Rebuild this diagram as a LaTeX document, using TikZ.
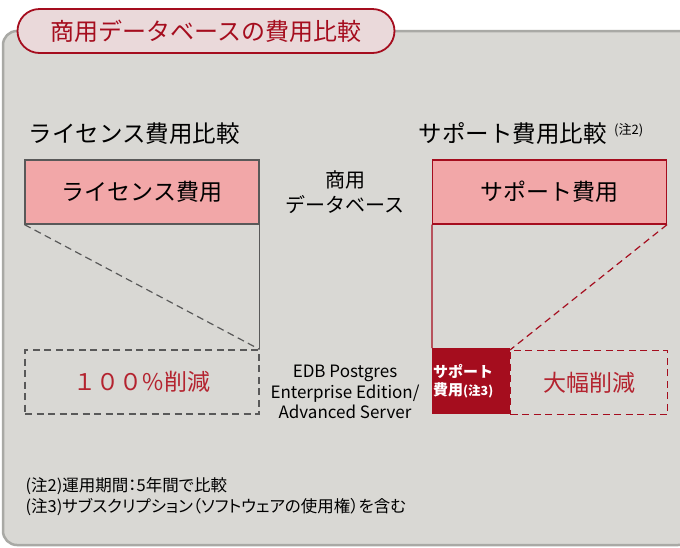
\documentclass[tikz,border=0pt]{standalone}
\usepackage{fontspec}
\setmainfont{Noto Sans CJK JP}
\usetikzlibrary{positioning}
\definecolor{panelgray}{HTML}{D9D8D4}
\definecolor{panelline}{HTML}{A9A9A5}
\definecolor{darkred}{HTML}{A50D1E}
\definecolor{pillpink}{HTML}{EAD9DA}
\definecolor{costpink}{HTML}{F2A7A8}
\definecolor{cutred}{HTML}{B4232F}
\tikzset{
  costbox/.style={draw, fill=costpink, line width=1.2pt, minimum width=234pt, minimum height=64pt, font=\fontsize{23}{26}\selectfont},
  cutbox/.style={draw, dashed, dash pattern=on 7pt off 4.5pt, line width=1.2pt, minimum height=64pt, font=\fontsize{23}{26}\selectfont, text=cutred},
  heading/.style={font=\fontsize{23.5}{26}\selectfont, anchor=west},
  midtext/.style={align=center, font=\fontsize{20}{25}\selectfont},
}
\begin{document}
\begin{tikzpicture}[x=1pt, y=-1pt]
    \useasboundingbox (0,0) rectangle (680,547);
    \fill[white] (0,0) rectangle (680,547);

    % grey panel
    \draw[panelline, fill=panelgray, line width=2.5pt, rounded corners=14pt] (3,31) rectangle (692,545);

    % title
    \node[draw=darkred, fill=pillpink, line width=1.8pt, rounded corners=22pt, minimum width=377pt, minimum height=44pt, text=darkred, font=\fontsize{24}{26}\selectfont] (title) at (206,31) {商用データベースの費用比較};

    % headings
    \node[heading] (lichead) at (25,134) {ライセンス費用比較};
    \node[heading] (suphead) at (415,134) {サポート費用比較};
    \node[anchor=west, font=\fontsize{13}{15}\selectfont, inner sep=0pt] (note2mark) at (614,130) {(注2)};

    % license side
    \node[costbox, draw=black!65] (licbox) at (142,192) {ライセンス費用};
    \node[cutbox, draw=black!65, minimum width=234pt] (liccut) at (142,382) {１００\%削減};
    \draw[black!65, line width=1.2pt] (licbox.south east) -- (liccut.north east);
    \draw[black!65, line width=1.2pt, dashed, dash pattern=on 7pt off 4.5pt] (licbox.south west) -- (liccut.north east);

    % middle labels
    \node[midtext] (commercial) at (345,192) {商用\\データベース};
    \node[midtext, font=\fontsize{17}{20.5}\selectfont] (edb) at (345,392) {EDB Postgres\\Enterprise Edition/\\Advanced Server};

    % support side
    \node[costbox, draw=darkred] (supbox) at (549.5,192) {サポート費用};
    \node[fill=darkred, minimum width=78pt, minimum height=66pt, anchor=north west, inner sep=0pt] (subbox) at (432,348) {};
    \node[anchor=west, text=white, align=left, font=\fontsize{15}{18}\selectfont\bfseries, inner sep=1pt] (sublabel) at (432,381) {サポート\\費用{\fontsize{12.5}{14}\selectfont (注3)}};
    \node[cutbox, draw=darkred, minimum width=157pt, anchor=north west] (supcut) at (510,350) {大幅削減};
    \draw[darkred, line width=1.2pt] (supbox.south west) -- (subbox.north west);
    \draw[darkred, line width=1.2pt, dashed, dash pattern=on 7pt off 4.5pt] (supbox.south east) -- (supcut.north west);

    % notes
    \node[anchor=west, align=left, font=\fontsize{16.5}{21}\selectfont\addfontfeatures{RawFeature=+palt}] (notes) at (22,497) {(注2)運用期間：5年間で比較\\(注3)サブスクリプション（ソフトウェアの使用権）を含む};
\end{tikzpicture}
\end{document}
